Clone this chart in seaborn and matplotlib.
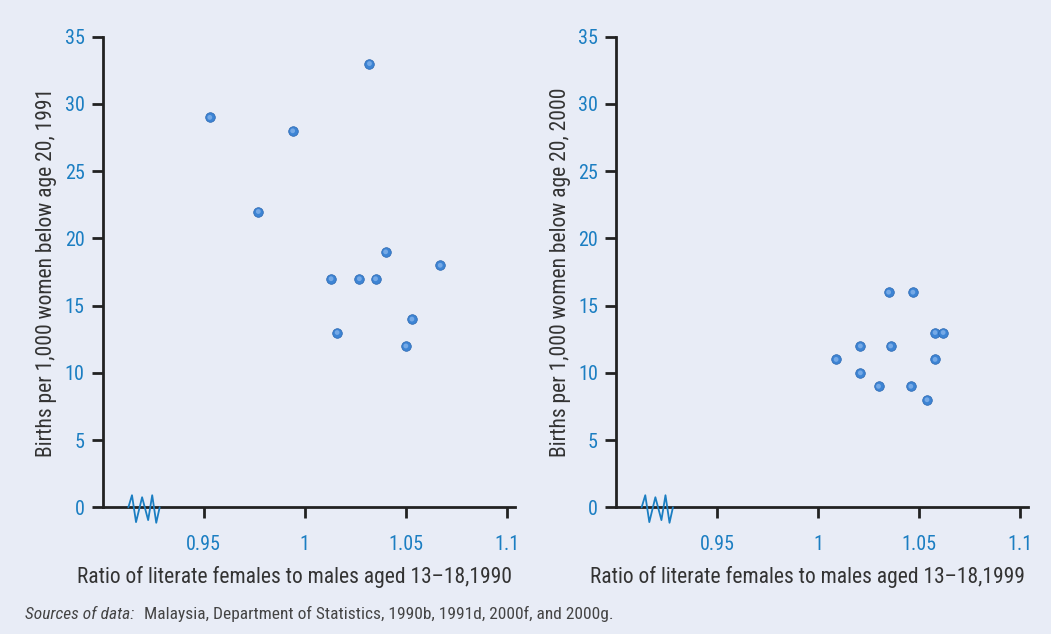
import matplotlib
matplotlib.use("Agg")
import matplotlib.pyplot as plt
from matplotlib import font_manager
import seaborn as sns
import pandas as pd

# ---- data ----
ratio_1990 = [0.953, 0.977, 0.994, 1.013, 1.016, 1.027, 1.032, 1.035, 1.040, 1.050, 1.053, 1.067]
births_1991 = [29, 22, 28, 17, 13, 17, 33, 17, 19, 12, 14, 18]
ratio_1999 = [1.009, 1.021, 1.021, 1.030, 1.035, 1.036, 1.046, 1.047, 1.054, 1.058, 1.058, 1.062]
births_2000 = [11, 12, 10, 9, 16, 12, 9, 16, 8, 13, 11, 13]
x_ticks = [0.95, 1.0, 1.05, 1.1]
x_tick_labels = ["0.95", "1", "1.05", "1.1"]
y_ticks = [0, 5, 10, 15, 20, 25, 30, 35]
x_labels = ["Ratio of literate females to males aged 13\u201318,1990",
            "Ratio of literate females to males aged 13\u201318,1999"]
y_labels = ["Births per 1,000 women below age 20, 1991",
            "Births per 1,000 women below age 20, 2000"]

BG = "#E8ECF6"
BLUE = "#1B7EC2"
DOT = "#3D84D4"
TXT = "#333333"

sns.set_theme(style="white")
names = {f.name for f in font_manager.fontManager.ttflist}
prefs = ["Roboto Condensed", "Liberation Sans Narrow", "Archivo Narrow"]
fam = next((p for p in prefs if p in names), None)
stretch = "normal"
if fam is None:
    fam = "DejaVu Sans"
    stretch = "condensed"
plt.rcParams["font.family"] = [fam, "DejaVu Sans"]
plt.rcParams["font.stretch"] = stretch

fig = plt.figure(figsize=(10.51, 6.34), dpi=100, facecolor=BG)
ax1 = fig.add_axes([0.0977, 0.1998, 0.3923, 0.7423])
ax2 = fig.add_axes([0.5861, 0.1998, 0.3920, 0.7423])

panels = [(ax1, ratio_1990, births_1991, x_labels[0], y_labels[0]),
          (ax2, ratio_1999, births_2000, x_labels[1], y_labels[1])]

for ax, xs, ys, xl, yl in panels:
    df = pd.DataFrame({"x": xs, "y": ys})
    ax.set_facecolor(BG)
    sns.scatterplot(data=df, x="x", y="y", ax=ax, s=48, color=DOT,
                    edgecolor="#2A66B0", linewidth=0.5, zorder=3, clip_on=False)
    sns.scatterplot(data=df, x="x", y="y", ax=ax, s=12, color="#8DB9EE",
                    edgecolor="none", linewidth=0, alpha=0.7, zorder=4, clip_on=False)
    ax.set_xlim(0.9, 1.104)
    ax.set_ylim(0, 35)
    ax.set_xticks(x_ticks)
    ax.set_xticklabels(x_tick_labels)
    ax.set_yticks(y_ticks)
    ax.set_xlabel(xl)
    ax.set_ylabel(yl)
    for s in ["top", "right"]:
        ax.spines[s].set_visible(False)
    for s in ["left", "bottom"]:
        ax.spines[s].set_color("#222222")
        ax.spines[s].set_linewidth(2)
    ax.tick_params(axis="y", direction="out", length=8, width=2, color="#222222",
                   labelcolor=BLUE, labelsize=14.5, pad=5, left=True)
    ax.tick_params(axis="x", direction="out", length=8, width=2, color="#222222",
                   labelcolor=BLUE, labelsize=14.5, pad=12, bottom=True)
    ax.set_xlabel(xl, fontsize=15.5, color=TXT)
    ax.set_ylabel(yl, fontsize=15.5, color=TXT)
    ax.xaxis.set_label_coords(0.465, -0.124)
    ax.yaxis.set_label_coords(-0.11, 0.5)
    # axis break zigzag on the x axis
    zx = [0.9127, 0.9145, 0.9165, 0.9195, 0.9225, 0.9245, 0.9265, 0.9282]
    zy = [0.0, 0.9, -1.1, 0.75, -0.95, 0.9, -1.15, 0.0]
    ax.plot(zx, zy, color=BLUE, lw=1.3, clip_on=False, zorder=4)

fig.text(0.024, 0.024, "Sources of data:", fontsize=12.5, style="italic", color="#444444",
         va="baseline")
fig.text(0.137, 0.024, "Malaysia, Department of Statistics, 1990b, 1991d, 2000f, and 2000g.",
         fontsize=12.5, color="#444444", va="baseline")

fig.savefig("out.png", dpi=100, facecolor=BG)
